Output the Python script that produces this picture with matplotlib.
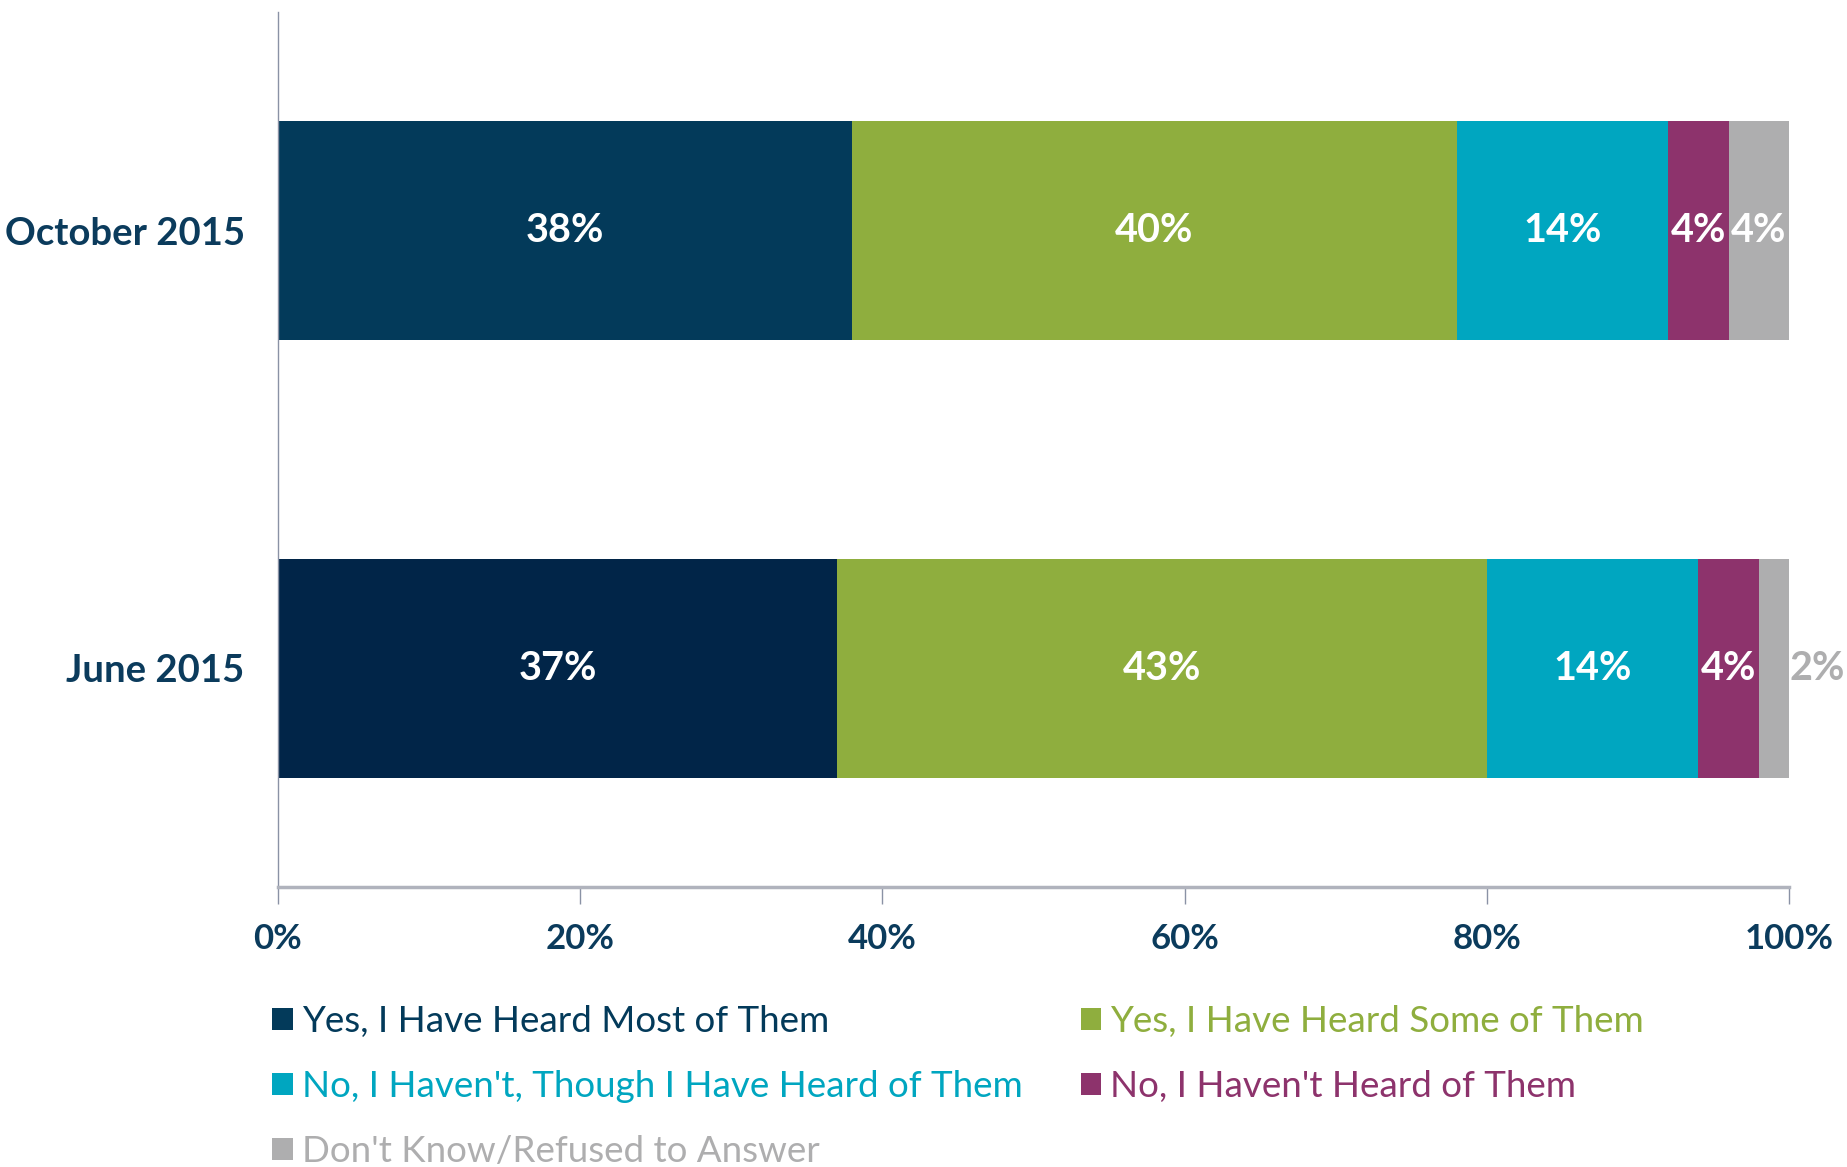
import numpy as np
import matplotlib
matplotlib.use("Agg")
import matplotlib.pyplot as plt

# data
periods = ["June 2015", "October 2015"]
answers = [
    "Yes, I Have Heard Most of Them",
    "Yes, I Have Heard Some of Them",
    "No, I Haven't, Though I Have Heard of Them",
    "No, I Haven't Heard of Them",
    "Don't Know/Refused to Answer",
]
june = [37, 43, 14, 4, 2]
october = [38, 40, 14, 4, 4]
ticks = [0, 20, 40, 60, 80, 100]

colors = ["#033A5A", "#8FAE3E", "#00A6C0", "#8D336C", "#AEAEAF"]
first_dark = ["#012548", "#033A5A"]  # june bar is a touch darker
navy = "#0B3B5C"

plt.rcParams["font.family"] = ["Lato", "DejaVu Sans"]

fig = plt.figure(figsize=(18.47, 11.67), dpi=100)
ax = fig.add_axes([0.1505, 0.2399, 0.8181, 0.7498])

values = np.array([june, october], dtype=float)
y = np.arange(len(periods))
left = np.zeros(len(periods))
handles = []
for i, name in enumerate(answers):
    col = [first_dark[j] if i == 0 else colors[i] for j in range(len(periods))]
    bars = ax.barh(y, values[:, i], left=left, height=0.5, color=col,
                   edgecolor="none", label=name)
    handles.append(bars)
    for j, b in enumerate(bars):
        v = values[j, i]
        cx = left[j] + v / 2
        if v < 3:
            ax.text(left[j] + v + 0.05, y[j], f"{v:.0f}%", ha="left", va="center",
                    color=colors[4], fontsize=28.5, fontweight="bold")
        else:
            ax.text(cx, y[j], f"{v:.0f}%", ha="center", va="center",
                    color="white", fontsize=28.5, fontweight="bold")
    left = left + values[:, i]

ax.set_xlim(0, 100)
ax.set_ylim(-0.5, 1.5)
ax.set_xticks(ticks)
ax.set_xticklabels([f"{t}%" for t in ticks])
ax.set_yticks(y)
ax.set_yticklabels(periods)

for s in ["top", "right"]:
    ax.spines[s].set_visible(False)
ax.spines["left"].set_color("#8A92A5")
ax.spines["left"].set_linewidth(1.0)
ax.spines["bottom"].set_color("#B0B3BD")
ax.spines["bottom"].set_linewidth(2.5)

ax.tick_params(axis="x", direction="out", length=12, width=1, color="#8A92A5",
               pad=14, labelsize=25, labelcolor=navy)
ax.tick_params(axis="y", length=0, pad=24, labelsize=27.5, labelcolor=navy)
for lab in ax.get_xticklabels() + ax.get_yticklabels():
    lab.set_fontweight("bold")

# legend is filled column by column, so reorder to read row by row
order = [0, 2, 4, 1, 3]
leg = fig.legend([handles[k] for k in order], [answers[k] for k in order],
                 ncol=2, loc="upper left",
                 bbox_to_anchor=(0.1475, 1 - 1005 / 1167),
                 frameon=False, fontsize=26.5, handlelength=0.55, handleheight=0.55,
                 handletextpad=0.25, labelspacing=0.87, columnspacing=1.58,
                 borderpad=0, borderaxespad=0)
for k, txt, h in zip(order, leg.get_texts(), leg.legend_handles):
    txt.set_color(colors[k])
    h.set_facecolor(colors[k])

fig.savefig("out.png", dpi=100)
